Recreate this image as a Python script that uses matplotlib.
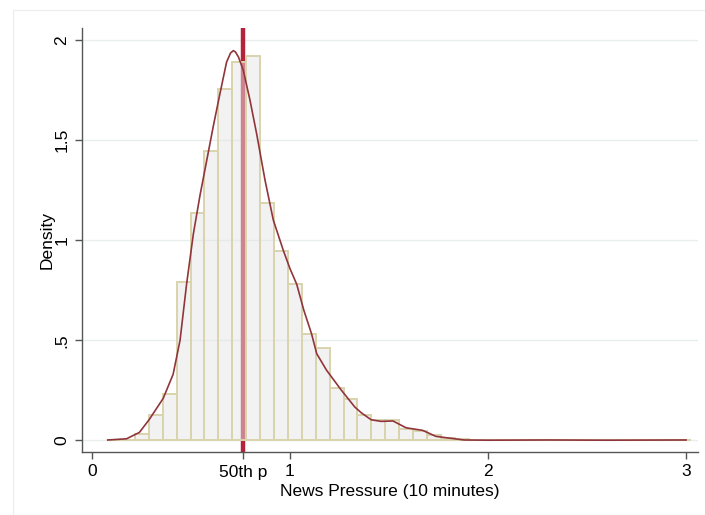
import numpy as np
import matplotlib
matplotlib.use("Agg")
import matplotlib.pyplot as plt
from matplotlib.patches import Rectangle

plt.rcParams['font.family'] = ['Liberation Sans', 'DejaVu Sans']

# histogram: first bin edge, bin width, densities
bin_start = 0.077
bin_width = 0.0702
density = [0.002, 0.004, 0.033, 0.125, 0.23, 0.79, 1.137, 1.448, 1.755, 1.89,
           1.92, 1.187, 0.948, 0.78, 0.533, 0.462, 0.264, 0.206, 0.125, 0.10,
           0.103, 0.058, 0.047, 0.025, 0.013, 0.007, 0.004, 0.003, 0.003, 0.002,
           0.002, 0.001, 0.002, 0.001, 0.001, 0.001, 0.001, 0.001, 0.0, 0.001,
           0.0, 0.001]

# kernel density
kde_x = [0.08, 0.175, 0.24, 0.29, 0.36, 0.41, 0.445, 0.478, 0.512, 0.545,
         0.58, 0.613, 0.646, 0.68, 0.70, 0.714, 0.725, 0.74, 0.764, 0.798,
         0.832, 0.874, 0.916, 0.966, 1.0, 1.034, 1.07, 1.109, 1.135, 1.185,
         1.26, 1.327, 1.36, 1.41, 1.46, 1.52, 1.586, 1.67, 1.737, 1.80,
         1.88, 2.0, 2.3, 2.6, 3.0]
kde_y = [0.002, 0.008, 0.04, 0.105, 0.21, 0.33, 0.50, 0.78, 1.03, 1.22,
         1.40, 1.57, 1.73, 1.89, 1.935, 1.947, 1.94, 1.915, 1.85, 1.70,
         1.53, 1.30, 1.10, 0.95, 0.858, 0.78, 0.65, 0.532, 0.433, 0.35,
         0.25, 0.167, 0.138, 0.103, 0.095, 0.097, 0.063, 0.05, 0.02, 0.012,
         0.002, 0.001, 0.002, 0.001, 0.002]

median = 0.763
xticks = [0, median, 1, 2, 3]
xticklabels = ['0', '50th p', '1', '2', '3']
yticks = [0, 0.5, 1, 1.5, 2]
yticklabels = ['0', '.5', '1', '1.5', '2']

fig = plt.figure(figsize=(7.05, 5.15), dpi=100)
fig.patches.append(Rectangle((13/705, 0), 1, 1 - 10/515, transform=fig.transFigure,
                             fill=False, edgecolor='#ececec', linewidth=0.8))
ax = fig.add_axes([82/705, (515-452)/515, (698-82)/705, (452-28)/515])

for g in yticks:
    ax.axhline(g, color='#e8eeee', linewidth=1.0, zorder=0)

ax.axvline(median, color='#b4223c', linewidth=3.2, zorder=1)

lefts = bin_start + bin_width*np.arange(len(density))
ax.bar(lefts, density, width=bin_width, align='edge', color=(0.9, 0.9, 0.9, 0.5),
       edgecolor='#d9d4ad', linewidth=1.4, zorder=2)

ax.plot(kde_x, kde_y, color='#90353b', linewidth=1.2, zorder=3)

ax.set_xlim(-0.05, 3.06)
ax.set_ylim(-0.058, 2.06)
ax.set_xticks(xticks)
ax.set_xticklabels(xticklabels)
ax.set_yticks(yticks)
ax.set_yticklabels(yticklabels, rotation=90, va='center')
ax.tick_params(axis='both', length=5, width=1, color='#555555', labelsize=12.5, pad=4)
for s in ['top', 'right']:
    ax.spines[s].set_visible(False)
for s in ['left', 'bottom']:
    ax.spines[s].set_color('#555555')
    ax.spines[s].set_linewidth(1)

ax.set_xlabel('News Pressure (10 minutes)', fontsize=12.5, labelpad=3)
ax.set_ylabel('Density', fontsize=12.5, labelpad=0)

fig.savefig('out.png', dpi=100)
